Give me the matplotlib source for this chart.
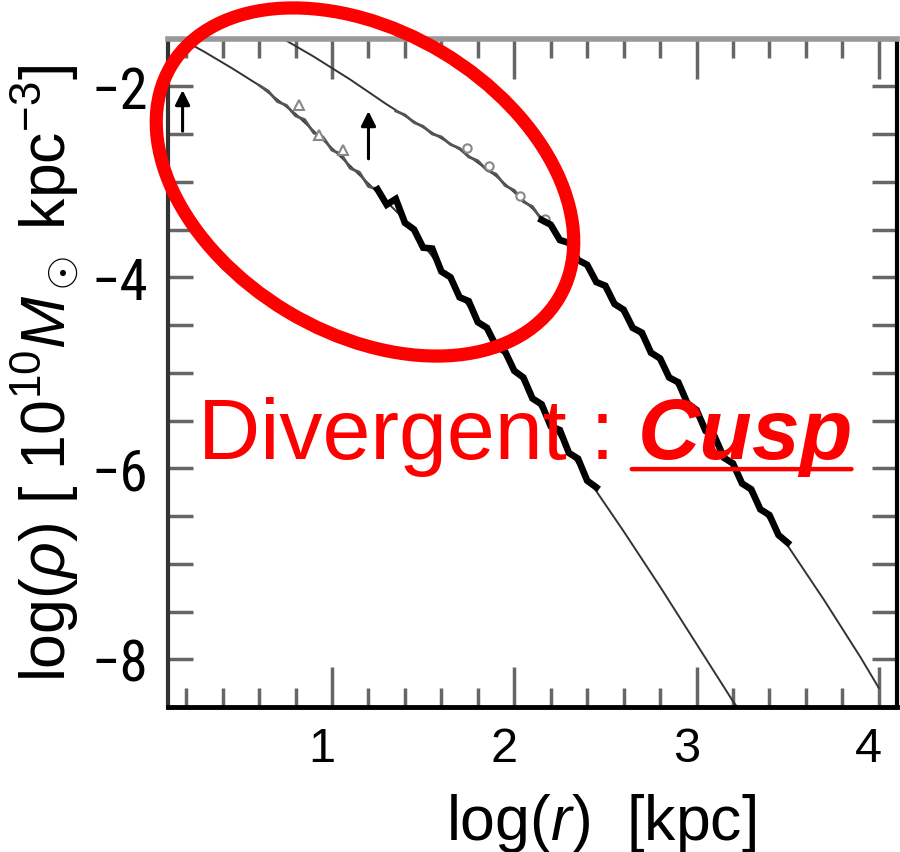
import matplotlib
matplotlib.use('Agg')
import matplotlib.pyplot as plt
import numpy as np
from matplotlib.patches import Ellipse
from matplotlib.ticker import MultipleLocator
from matplotlib.transforms import IdentityTransform, ScaledTranslation
from matplotlib import font_manager as fm

# fitted profiles (thin lines)
inner_fit_x = [0.15, 0.30, 0.45, 0.60, 0.80, 1.00, 1.20, 1.40, 1.60, 1.80, 2.00, 2.20, 2.40, 2.60, 2.80, 3.00, 3.20, 3.23]
inner_fit_y = [-1.48, -1.64, -1.81, -1.99, -2.29, -2.65, -3.02, -3.40, -3.91, -4.44, -4.95, -5.53, -6.10, -6.66, -7.24, -7.84, -8.44, -8.52]

outer_fit_x = [0.72, 0.90, 1.10, 1.30, 1.50, 1.70, 1.90, 2.10, 2.30, 2.50, 2.70, 2.90, 3.10, 3.30, 3.50, 3.70, 3.90, 4.00]
outer_fit_y = [-1.49, -1.69, -1.93, -2.19, -2.43, -2.66, -2.94, -3.28, -3.68, -4.13, -4.63, -5.15, -5.72, -6.27, -6.81, -7.38, -7.98, -8.30]

# simulated halo profiles (jagged)
inner_sim_x = [0.60, 0.65, 0.70, 0.75, 0.80, 0.85, 0.90, 0.95, 1.00, 1.05, 1.10, 1.15, 1.20,
               1.25, 1.30, 1.35, 1.40, 1.45, 1.50, 1.55, 1.60, 1.65, 1.70, 1.75, 1.80,
               1.85, 1.90, 1.95, 2.00, 2.05, 2.10, 2.15, 2.20, 2.25, 2.30, 2.35, 2.40, 2.45]
inner_sim_y = [-1.99, -2.05, -2.16, -2.20, -2.31, -2.35, -2.49, -2.53, -2.67, -2.71, -2.86, -2.90, -3.05,
               -3.08, -3.24, -3.18, -3.43, -3.50, -3.69, -3.70, -3.94, -4.00, -4.21, -4.25, -4.47,
               -4.53, -4.72, -4.78, -4.98, -5.05, -5.27, -5.33, -5.56, -5.60, -5.84, -5.90, -6.13, -6.20]

outer_sim_x = [1.35, 1.40, 1.45, 1.50, 1.55, 1.60, 1.65, 1.70, 1.75, 1.80, 1.85, 1.90, 1.95, 2.00, 2.05,
               2.10, 2.15, 2.20, 2.25, 2.30, 2.35, 2.40, 2.45, 2.50, 2.55, 2.60, 2.65, 2.70, 2.75,
               2.80, 2.85, 2.90, 2.95, 3.00, 3.05, 3.10, 3.15, 3.20, 3.25, 3.30, 3.35, 3.40, 3.45, 3.50]
outer_sim_y = [-2.26, -2.30, -2.38, -2.42, -2.50, -2.53, -2.61, -2.65, -2.74, -2.78, -2.88, -2.92, -3.04, -3.09, -3.21,
               -3.26, -3.40, -3.45, -3.61, -3.64, -3.82, -3.87, -4.05, -4.09, -4.28, -4.34, -4.53, -4.58, -4.79,
               -4.85, -5.05, -5.10, -5.32, -5.39, -5.61, -5.67, -5.89, -5.95, -6.16, -6.22, -6.43, -6.49, -6.70, -6.78]

# small open markers on the inner parts
inner_mk_x = [0.82, 0.93, 1.06]
inner_mk_y = [-2.20, -2.51, -2.67]
outer_mk_x = [1.74, 1.86, 2.03, 2.17]
outer_mk_y = [-2.65, -2.83, -3.15, -3.39]

# arrows (x, tail y, head y)
arrow_x = [0.18, 1.20]
arrow_tail = [-2.47, -2.76]
arrow_head = [-2.04, -2.26]

xticks = [1, 2, 3, 4]
yticks = [-8, -6, -4, -2]


def pick_font(names):
    for n in names:
        try:
            fm.findfont(fm.FontProperties(family=n), fallback_to_default=False)
            return n
        except ValueError:
            pass
    return 'DejaVu Sans'


sans = pick_font(['Liberation Sans', 'Arial'])
narrow = pick_font(['Liberation Sans Narrow', 'Roboto Condensed', 'Open Sans Condensed',
                    'DejaVu Sans Condensed', 'Liberation Sans'])

plt.rcParams['font.family'] = [sans, 'DejaVu Sans']
plt.rcParams['mathtext.fontset'] = 'custom'
plt.rcParams['mathtext.rm'] = sans
plt.rcParams['mathtext.it'] = sans + ':italic'
plt.rcParams['mathtext.bf'] = sans + ':bold'

fig = plt.figure(figsize=(9, 8.53), dpi=100)
ax = fig.add_axes([168 / 900, 1 - 708 / 853, 729 / 900, 668.5 / 853])

ax.plot(inner_fit_x, inner_fit_y, color='#333333', lw=1.4, zorder=2)
ax.plot(outer_fit_x, outer_fit_y, color='#333333', lw=1.4, zorder=2)

isx = np.array(inner_sim_x)
isy = np.array(inner_sim_y)
osx = np.array(outer_sim_x)
osy = np.array(outer_sim_y)
ax.plot(isx, isy, color='#555555', lw=2.0, zorder=3)
ax.plot(osx, osy, color='#555555', lw=2.0, zorder=3)
m = isx >= 1.25
ax.plot(isx[m], isy[m], color='black', lw=4.8, solid_joinstyle='miter', zorder=4)
m = osx >= 2.15
ax.plot(osx[m], osy[m], color='black', lw=4.8, solid_joinstyle='miter', zorder=4)

ax.plot(inner_mk_x, inner_mk_y, ls='none', marker='^', ms=7, mfc='white', mec='#888888', mew=1.5, zorder=3)
ax.plot(outer_mk_x, outer_mk_y, ls='none', marker='o', ms=6, mfc='white', mec='#888888', mew=1.5, zorder=3)

for xa, yt, yh in zip(arrow_x, arrow_tail, arrow_head):
    ax.annotate('', xy=(xa, yh), xytext=(xa, yt),
                arrowprops=dict(arrowstyle='-|>', color='black', lw=2.2,
                                mutation_scale=22, shrinkA=0, shrinkB=0))

ax.set_xlim(0.1, 4.1)
ax.set_ylim(-8.5, -1.5)
ax.set_xticks(xticks)
ax.set_yticks(yticks)
ax.xaxis.set_minor_locator(MultipleLocator(0.2))
ax.yaxis.set_minor_locator(MultipleLocator(0.5))
ax.tick_params(which='both', direction='in', top=True, right=True, color='#666666', width=2.5)
ax.tick_params(axis='x', which='major', length=29, pad=14)
ax.tick_params(axis='x', which='minor', length=14)
ax.tick_params(axis='y', which='both', length=18, pad=14)
shift = ScaledTranslation(-0.1, 0, fig.dpi_scale_trans)
for lab in ax.get_xticklabels():
    lab.set_fontfamily(sans)
    lab.set_fontsize(35)
    lab.set_transform(lab.get_transform() + shift)
for lab in ax.get_yticklabels():
    lab.set_fontfamily(narrow)
    lab.set_fontsize(41)

ax.spines['left'].set_color('#333333')
ax.spines['left'].set_linewidth(3)
ax.spines['bottom'].set_color('black')
ax.spines['bottom'].set_linewidth(3.5)
ax.spines['top'].set_color('#999999')
ax.spines['top'].set_linewidth(4)
ax.spines['right'].set_color('black')
ax.spines['right'].set_linewidth(3)

ax.set_xlabel(r'log($r$)  [kpc]', fontsize=45)
ax.xaxis.set_label_coords(0.594, -0.125)
ax.set_ylabel(r'log($\rho$) [ 10$^{10}$$M_\odot$ kpc$^{-3}$]', fontsize=45)
ax.yaxis.set_label_coords(-0.12, 0.5)

# red annotation
t1 = ax.text(0.041, 0.372, 'Divergent : ', transform=ax.transAxes, color='red',
             fontsize=62, zorder=12)
t2 = ax.annotate('Cusp', xy=(1, 0), xycoords=t1, va='bottom', ha='left',
                 color='red', fontsize=62, fontweight='bold', fontstyle='italic', zorder=12)
ax.annotate('', xy=(-0.03, 0.09), xycoords=t2, xytext=(0.99, 0.09), textcoords=t2,
            arrowprops=dict(arrowstyle='-', color='red', lw=3.2, shrinkA=0, shrinkB=0), zorder=12)

ell = Ellipse((365, 853 - 183), width=452, height=302, angle=-31, transform=IdentityTransform(),
              fill=False, edgecolor='red', lw=9.5, zorder=20)
fig.add_artist(ell)

fig.savefig('out.png', dpi=100)
